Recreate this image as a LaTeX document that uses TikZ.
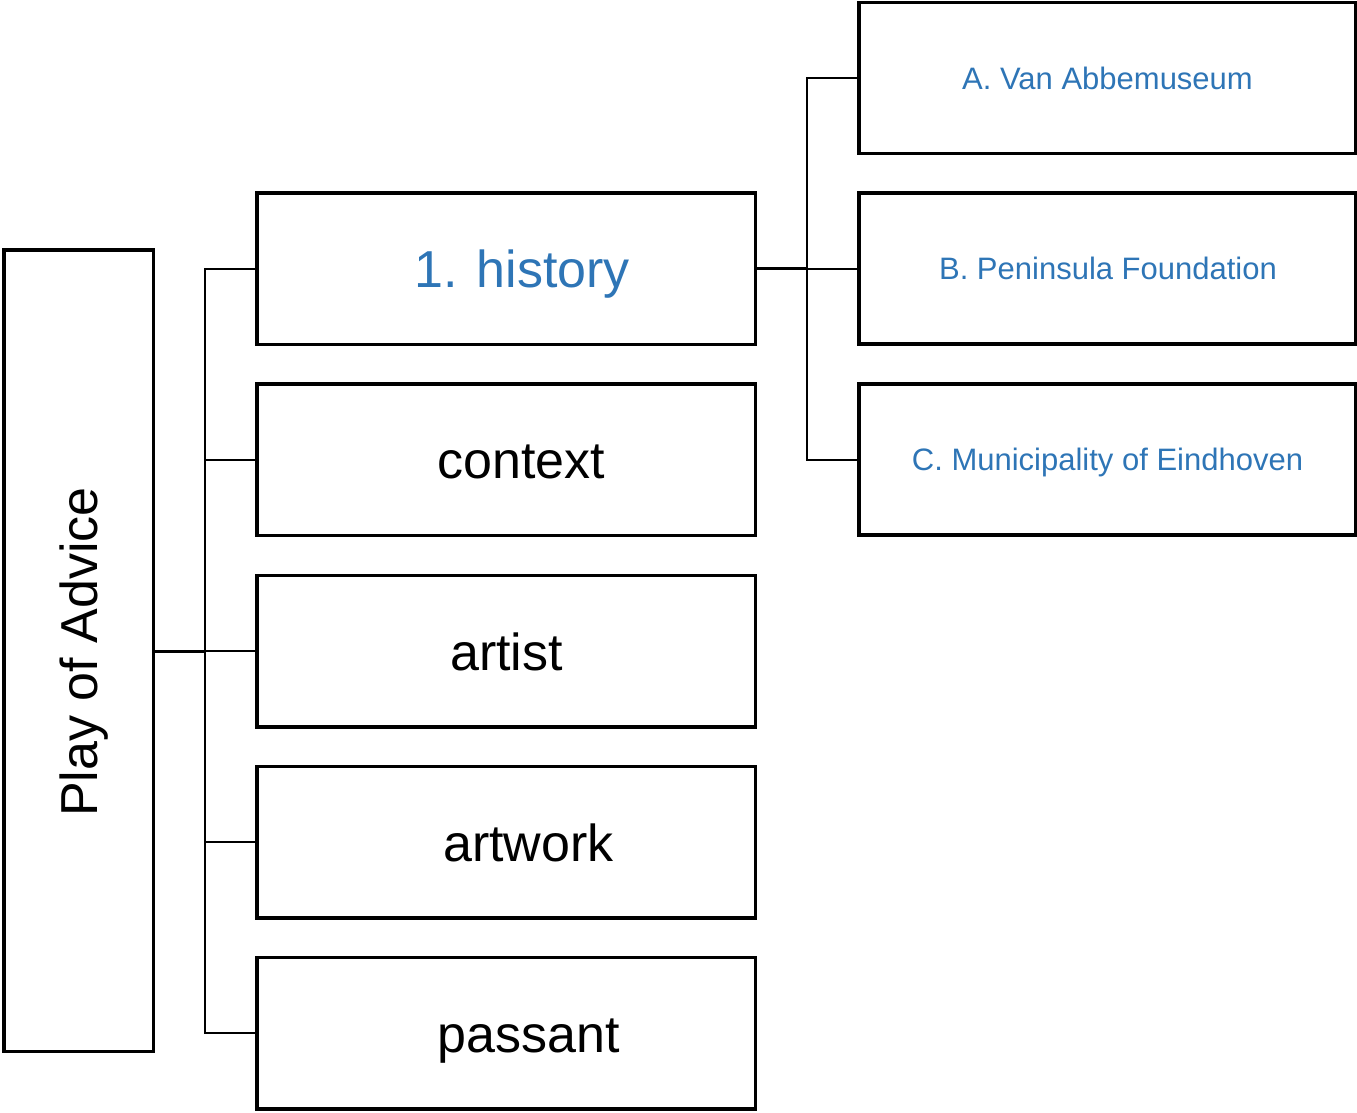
\documentclass[tikz,border=0pt]{standalone}
\usepackage{fontspec}
\setmainfont{Liberation Sans}
\definecolor{tblue}{HTML}{2E75B6}
\begin{document}
\begin{tikzpicture}[x=1pt,y=-1pt,
  box/.style={draw=black,line width=3.5pt,minimum width=#1,inner sep=0pt,outer sep=0pt},
  midbox/.style={box=498.5pt,minimum height=151.5pt},
  rbox/.style={box=496.5pt,minimum height=151pt},
  bigtxt/.style={anchor=base,inner sep=0pt,font=\fontsize{52}{60}\selectfont},
  smalltxt/.style={anchor=base,inner sep=0pt,text=tblue,font=\fontsize{31}{36}\selectfont},
  thickconn/.style={line width=3pt},
  thinconn/.style={line width=2pt}]
\useasboundingbox (0,0) rectangle (1357,1112);
% boxes
\node[box=149.5pt,minimum height=801.5pt] (play) at (78.5,650.5) {};
\node[midbox] (history) at (506,268.5) {};
\node[midbox] (context) at (506,459.5) {};
\node[midbox] (artist) at (506,651) {};
\node[midbox] (artwork) at (506,842) {};
\node[midbox] (passant) at (506,1033) {};
\node[rbox] (ra) at (1107,78) {};
\node[rbox] (rb) at (1107,268.5) {};
\node[rbox] (rc) at (1107,459.5) {};
% texts
\node[bigtxt,rotate=90] (tplay) at (97,652) {Play of Advice};
\node[bigtxt,text=tblue] (thistory) at (522,287.5) {1. history};
\node[bigtxt] (tcontext) at (521,478.5) {context};
\node[bigtxt] (tartist) at (506.5,670) {artist};
\node[bigtxt] (tartwork) at (528.5,861) {artwork};
\node[bigtxt] (tpassant) at (528.5,1052) {passant};
\node[smalltxt] (ta) at (1107.5,89) {A. Van Abbemuseum};
\node[smalltxt] (tb) at (1108,279.5) {B. Peninsula Foundation};
\node[smalltxt] (tc) at (1107.5,470.5) {C. Municipality of Eindhoven};
% junctions
\coordinate (j1) at (205,651);
\coordinate (j2) at (807,268.5);
% connectors
\draw[thickconn] (play.east |- j1) -- (j1);
\draw[thinconn] (j1) -- (artist.west);
\draw[thinconn] (history.west) -| (j1) |- (passant.west);
\draw[thinconn] (context.west) -- (context.west -| j1);
\draw[thinconn] (artwork.west) -- (artwork.west -| j1);
\draw[thickconn] (history.east) -- (j2);
\draw[thinconn] (j2) -- (rb.west);
\draw[thinconn] (ra.west) -| (j2) |- (rc.west);
\end{tikzpicture}
\end{document}
